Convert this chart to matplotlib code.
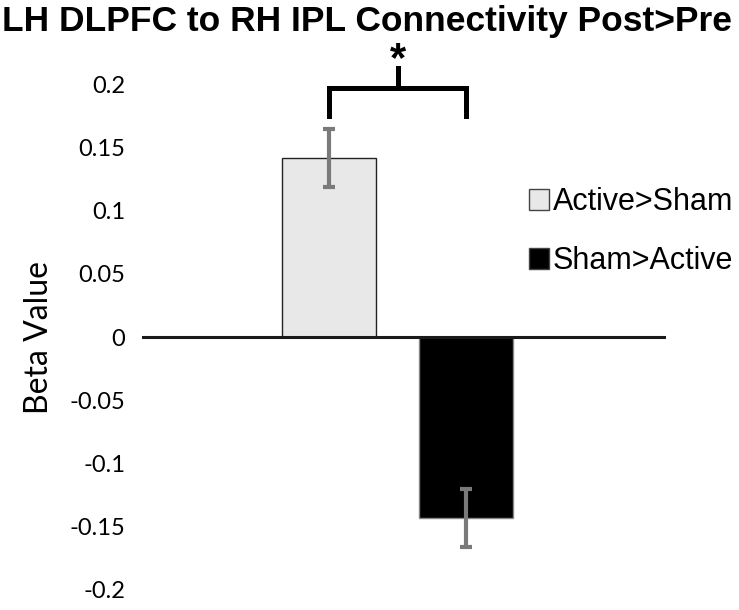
"""
LH DLPFC -> RH IPL connectivity, post>pre, active vs sham contrast.
"""
import matplotlib
matplotlib.use("Agg")
import matplotlib.pyplot as plt
from matplotlib.patches import Patch

groups = ["Active>Sham", "Sham>Active"]
beta = [0.142, -0.143]
sem = [0.023, 0.023]
yticks = [0.2, 0.15, 0.1, 0.05, 0, -0.05, -0.1, -0.15, -0.2]
ytick_labels = ["0.2", "0.15", "0.1", "0.05", "0", "-0.05", "-0.1", "-0.15", "-0.2"]

LIGHT = "#e8e8e8"
DARK = "#000000"
ERR_GREY = "#7a7a7a"

fig = plt.figure(figsize=(7.39, 6.10), dpi=100)
ax = fig.add_axes([0.192, 0.0328, 0.709, 0.829])

x = list(range(len(groups)))
bars = ax.bar(x, beta, width=0.69, color=[LIGHT, DARK],
              edgecolor=["#222222", "#888888"], linewidth=1.0, zorder=2)
ax.errorbar(x, beta, yerr=sem, fmt="none", ecolor=ERR_GREY, elinewidth=3,
            capsize=4, capthick=3, zorder=3)

ax.axhline(0, color="#1a1a1a", linewidth=2.2, zorder=4)

ax.set_xlim(-1.374, 2.465)
ax.set_ylim(-0.2, 0.2)
ax.set_yticks(yticks)
ax.set_yticklabels(ytick_labels, family="Lato", fontsize=17)
ax.set_xticks([])
ax.tick_params(axis="y", length=0, pad=12)
for s in ax.spines.values():
    s.set_visible(False)
ax.set_ylabel("Beta Value", family="Lato", fontsize=23, labelpad=11)

# significance bracket
bx0, bx1 = x[0], x[1]
top, leg = 0.197, 0.175
ax.plot([bx0, bx0, bx1, bx1], [leg, top, top, leg], color="black",
        linewidth=3.6, clip_on=False, solid_joinstyle="miter", zorder=5)
mid = (bx0 + bx1) / 2
ax.plot([mid, mid], [top, 0.213], color="black", linewidth=3.6,
        clip_on=False, zorder=5)
ax.text(mid, 0.219, "*", ha="center", va="center", fontsize=30,
        fontweight="bold", family="Liberation Sans", clip_on=False)

fig.text(0.003, 0.992, "LH DLPFC to RH IPL Connectivity Post>Pre",
         ha="left", va="top", fontsize=25.5, fontweight="bold",
         family="Liberation Sans")

handles = [Patch(facecolor=LIGHT, edgecolor="#444444", linewidth=1),
           Patch(facecolor=DARK, edgecolor="#444444", linewidth=1)]
fig.legend(handles, groups, loc="center left",
           bbox_to_anchor=(0.716, 0.62), frameon=False,
           prop={"family": "Liberation Sans", "size": 22},
           handlelength=0.66, handleheight=0.66, handletextpad=0.12,
           labelspacing=0.95, borderpad=0, borderaxespad=0)

fig.savefig("out.png", dpi=100)
